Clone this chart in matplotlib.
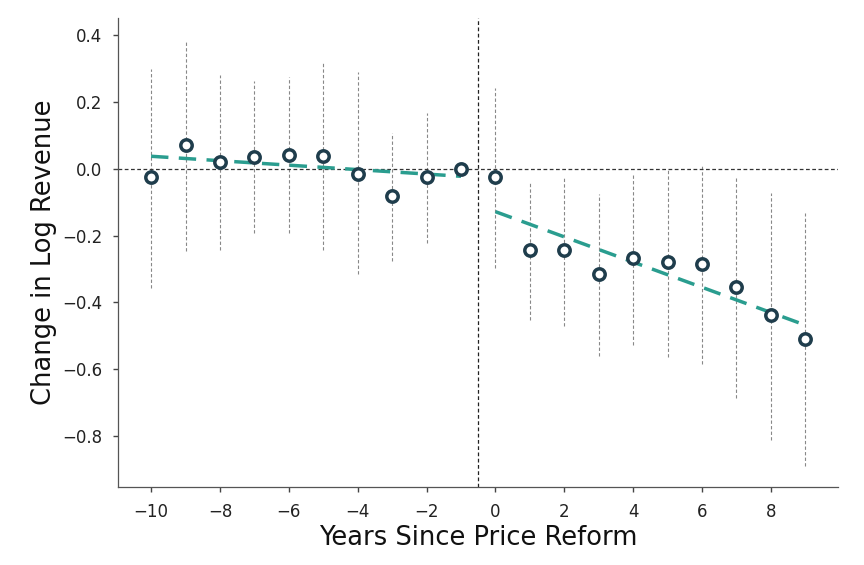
import matplotlib
matplotlib.use("Agg")
import matplotlib.pyplot as plt
import numpy as np

years = [-10, -9, -8, -7, -6, -5, -4, -3, -2, -1, 0, 1, 2, 3, 4, 5, 6, 7, 8, 9]
coef = [-0.025, 0.071, 0.021, 0.037, 0.043, 0.038, -0.014, -0.081, -0.023, 0.0,
        -0.024, -0.244, -0.244, -0.316, -0.266, -0.279, -0.284, -0.353, -0.439, -0.509]
ci_low = [-0.356, -0.246, -0.243, -0.192, -0.192, -0.243, -0.316, -0.276, -0.221, 0.0,
          -0.296, -0.454, -0.471, -0.561, -0.526, -0.564, -0.584, -0.686, -0.813, -0.891]
ci_high = [0.300, 0.383, 0.281, 0.263, 0.275, 0.318, 0.290, 0.108, 0.168, 0.0,
           0.243, -0.038, -0.024, -0.076, -0.015, 0.000, 0.008, -0.027, -0.072, -0.131]
pre_trend_x = [-10, -1]
pre_trend_y = [0.038, -0.022]
post_trend_x = [0, 9]
post_trend_y = [-0.128, -0.468]

plt.rcParams['font.family'] = ['DejaVu Sans']
fig = plt.figure(figsize=(8.64, 5.65), dpi=100)
ax = fig.add_axes([0.137, 0.138, 0.833, 0.83])

for x, lo, hi in zip(years, ci_low, ci_high):
    if hi != lo:
        ax.plot([x, x], [lo, hi], color='#888888', lw=0.8, ls=(0, (3, 2)), zorder=1)

ax.axhline(0, color='#333333', lw=0.9, ls=(0, (3, 2)), zorder=1)
ax.axvline(-0.5, color='#222222', lw=0.9, ls=(0, (3, 2)), zorder=1)

ax.plot(pre_trend_x, pre_trend_y, color='#2a9d8f', lw=2.5, ls=(0, (5, 3)), zorder=2)
ax.plot(post_trend_x, post_trend_y, color='#2a9d8f', lw=2.5, ls=(0, (5, 3)), zorder=2)

ax.plot(years, coef, 'o', ms=8.2, mfc='white', mec='#1f3d4c', mew=2.5, zorder=3)

ax.set_xlim(-10.95, 9.95)
ax.set_ylim(-0.953, 0.452)
ax.set_xticks([-10, -8, -6, -4, -2, 0, 2, 4, 6, 8])
ax.set_yticks([-0.8, -0.6, -0.4, -0.2, 0.0, 0.2, 0.4])
ax.set_xticklabels(['\u221210', '\u22128', '\u22126', '\u22124', '\u22122', '0', '2', '4', '6', '8'])
ax.set_yticklabels(['\u22120.8', '\u22120.6', '\u22120.4', '\u22120.2', '0.0', '0.2', '0.4'])
ax.tick_params(labelsize=12, length=3.5, width=1.0, pad=8, color='#444444', labelcolor='#222222')
ax.spines['top'].set_visible(False)
ax.spines['right'].set_visible(False)
for s in ['left', 'bottom']:
    ax.spines[s].set_color('#555555')
    ax.spines[s].set_linewidth(0.9)
ax.set_xlabel('Years Since Price Reform', fontsize=18.5, color='#111111', labelpad=3)
ax.set_ylabel('Change in Log Revenue', fontsize=18.5, color='#111111', labelpad=4)

fig.savefig('out.png', dpi=100)
